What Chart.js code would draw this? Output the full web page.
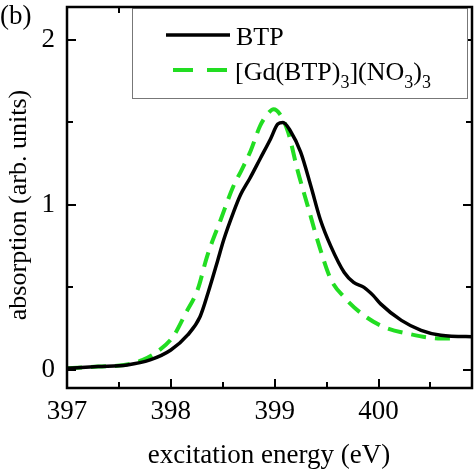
<!DOCTYPE html>
<html><head><meta charset="utf-8">
<script src="https://cdn.jsdelivr.net/npm/chart.js@4/dist/chart.umd.min.js"></script>
<style>html,body{margin:0;padding:0;background:#fff;}#wrap{width:474px;height:474px;}</style>
</head><body><div id="wrap"><canvas id="c" width="474" height="474"></canvas></div>
<script>
// ---- data ----
const btpEnergy = [397.0, 397.3, 397.58, 397.8, 398.0, 398.16, 398.28, 398.36, 398.45, 398.51, 398.6, 398.67, 398.76, 398.86, 398.96, 399.03, 399.08, 399.15, 399.25, 399.35, 399.44, 399.54, 399.67, 399.76, 399.86, 399.95, 400.02, 400.22, 400.41, 400.6, 400.95];
const btpAbs    = [0.01, 0.02, 0.03, 0.06, 0.12, 0.21, 0.32, 0.47, 0.66, 0.79, 0.95, 1.06, 1.16, 1.28, 1.40, 1.49, 1.50, 1.45, 1.32, 1.11, 0.91, 0.75, 0.59, 0.53, 0.50, 0.45, 0.40, 0.30, 0.24, 0.21, 0.20];
const gdEnergy  = [397.0, 397.3, 397.55, 397.73, 397.87, 398.02, 398.14, 398.26, 398.35, 398.48, 398.6, 398.68, 398.77, 398.86, 398.93, 398.99, 399.05, 399.13, 399.22, 399.32, 399.42, 399.54, 399.67, 399.86, 400.05, 400.28, 400.6, 400.7];
const gdAbs     = [0.01, 0.02, 0.03, 0.06, 0.11, 0.20, 0.34, 0.49, 0.69, 0.91, 1.11, 1.21, 1.33, 1.48, 1.55, 1.58, 1.55, 1.44, 1.21, 0.99, 0.77, 0.55, 0.44, 0.33, 0.26, 0.22, 0.19, 0.19];
const seriesNames = ['BTP', '[Gd(BTP)3](NO3)3'];
const xMajorTicks = [397, 398, 399, 400];
const xMinorTicks = [397.5, 398.5, 399.5, 400.5];
const yMajorTicks = [0, 1, 2];
const yMinorTicks = [0.5, 1.5];
const xTitle = 'excitation energy (eV)';
const yTitle = 'absorption (arb. units)';
const panelLabel = '(b)';

const SERIF = '"Liberation Serif", "Times New Roman", serif';
const GREEN = '#22dd22';

function pts(xs, ys) { return xs.map((x, i) => ({x: x, y: ys[i]})); }
function noPad(s) { s.paddingTop = 0; s.paddingBottom = 0; s.paddingLeft = 0; s.paddingRight = 0; }

const decor = {
  id: 'decor',
  afterDatasetsDraw(chart) {
    const ctx = chart.ctx, a = chart.chartArea;
    const xs = chart.scales.x, ys = chart.scales.y;
    ctx.save();
    ctx.strokeStyle = '#000';
    ctx.lineWidth = 2;
    const tick = (vals, len) => {
      vals.forEach(v => {
        const px = Math.round(xs.getPixelForValue(v));
        ctx.beginPath();
        ctx.moveTo(px, a.bottom); ctx.lineTo(px, a.bottom - len);
        ctx.moveTo(px, a.top); ctx.lineTo(px, a.top + len);
        ctx.stroke();
      });
    };
    const ytick = (vals, len) => {
      vals.forEach(v => {
        const py = Math.round(ys.getPixelForValue(v));
        ctx.beginPath();
        ctx.moveTo(a.left, py); ctx.lineTo(a.left + len, py);
        ctx.moveTo(a.right, py); ctx.lineTo(a.right - len, py);
        ctx.stroke();
      });
    };
    tick(xMajorTicks, 9); tick(xMinorTicks, 6);
    ytick(yMajorTicks, 9); ytick(yMinorTicks, 6);

    // legend box
    const lx = 132, ly = 8, lw = 335, lh = 90;
    ctx.fillStyle = '#fff';
    ctx.fillRect(lx, ly, lw, lh);
    ctx.strokeStyle = '#777';
    ctx.lineWidth = 1;
    ctx.strokeRect(lx + 0.5, ly + 0.5, lw, lh);
    ctx.strokeStyle = '#000';
    ctx.lineWidth = 3.5;
    ctx.beginPath(); ctx.moveTo(166, 35); ctx.lineTo(230, 35); ctx.stroke();
    ctx.strokeStyle = GREEN;
    ctx.lineWidth = 4;
    ctx.setLineDash([20, 14]);
    ctx.beginPath(); ctx.moveTo(173, 70); ctx.lineTo(228, 70); ctx.stroke();
    ctx.setLineDash([]);
    ctx.fillStyle = '#000';
    ctx.textBaseline = 'alphabetic';
    ctx.textAlign = 'left';
    ctx.font = '26px ' + SERIF;
    ctx.fillText(seriesNames[0], 236, 45);
    const parts = [['[Gd(BTP)', 0], ['3', 1], ['](NO', 0], ['3', 1], [')', 0], ['3', 1]];
    let tx = 235;
    parts.forEach(p => {
      ctx.font = (p[1] ? '18px ' : '26px ') + SERIF;
      ctx.fillText(p[0], tx, p[1] ? 88 : 80);
      tx += ctx.measureText(p[0]).width;
    });

    // frame
    ctx.strokeStyle = '#000';
    ctx.lineWidth = 2.5;
    ctx.strokeRect(a.left, a.top, a.right - a.left, a.bottom - a.top);

    // titles
    ctx.fillStyle = '#000';
    ctx.font = '27px ' + SERIF;
    ctx.textAlign = 'center';
    ctx.fillText(xTitle, 269, 463);
    ctx.save();
    ctx.translate(26, 205);
    ctx.rotate(-Math.PI / 2);
    ctx.font = '26px ' + SERIF;
    ctx.fillText(yTitle, 0, 0);
    ctx.restore();
    ctx.textAlign = 'left';
    ctx.font = '27px ' + SERIF;
    ctx.fillText(panelLabel, 0, 24);
    ctx.restore();
  }
};

new Chart(document.getElementById('c'), {
  type: 'scatter',
  data: {
    datasets: [
      { label: seriesNames[0], data: pts(btpEnergy, btpAbs), showLine: true, borderColor: '#000', borderWidth: 3.5, pointRadius: 0, cubicInterpolationMode: 'monotone', fill: false },
      { label: seriesNames[1], data: pts(gdEnergy, gdAbs), showLine: true, borderColor: GREEN, borderWidth: 4, borderDash: [15, 9], pointRadius: 0, cubicInterpolationMode: 'monotone', fill: false }
    ]
  },
  options: {
    responsive: false, animation: false, devicePixelRatio: 1,
    layout: { padding: { left: 0, right: 2, top: 7, bottom: 0 } },
    plugins: { legend: { display: false }, tooltip: { enabled: false } },
    scales: {
      x: {
        type: 'linear', min: 397, max: 400.9,
        afterBuildTicks: s => { s.ticks = xMajorTicks.map(v => ({value: v})); },
        afterFit: s => { s.height = 86; noPad(s); },
        ticks: { font: { family: SERIF, size: 27 }, color: '#000', padding: 8, maxRotation: 0, autoSkip: false, callback: v => String(v) },
        grid: { display: false, drawTicks: false },
        border: { display: false }
      },
      y: {
        type: 'linear', min: -0.11, max: 2.2,
        afterBuildTicks: s => { s.ticks = yMajorTicks.map(v => ({value: v})); },
        afterFit: s => { s.width = 67; noPad(s); },
        ticks: { font: { family: SERIF, size: 27 }, color: '#000', padding: 12, autoSkip: false, callback: v => String(v) },
        grid: { display: false, drawTicks: false },
        border: { display: false }
      }
    }
  },
  plugins: [decor]
});
</script></body></html>
